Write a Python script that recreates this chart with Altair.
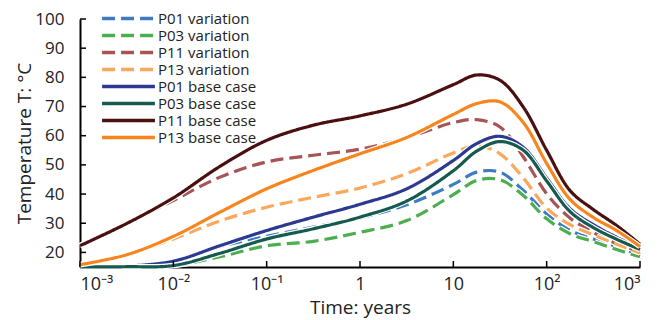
import altair as alt
import pandas as pd

# log10 of time in years at which values were read
log_t = [-3, -2.5, -2, -1.5, -1, -0.5, 0, 0.5, 1, 1.25, 1.5, 1.75, 2, 2.25, 2.5, 2.75, 3]

p01_var = [15.0, 15.3, 17.0, 22.0, 25.5, 28.7, 31.8, 36.3, 43.3, 47.5, 47.5, 41.2, 33.2, 27.5, 24.6, 22.0, 19.2]
p03_var = [15.0, 15.1, 15.5, 18.5, 22.3, 23.8, 26.9, 30.9, 39.8, 44.7, 44.9, 39.5, 31.5, 26.4, 23.7, 21.0, 18.5]
p11_var = [22.3, 29.9, 37.8, 45.8, 51.0, 53.3, 55.4, 59.3, 64.5, 65.5, 63.0, 52.7, 40.1, 31.8, 26.9, 23.0, 20.3]
p13_var = [15.8, 19.2, 24.6, 30.8, 35.5, 38.9, 42.1, 47.0, 54.1, 56.6, 53.8, 45.5, 35.2, 29.5, 26.0, 22.8, 19.8]
p01_base = [15.0, 15.3, 17.0, 22.3, 27.5, 32.1, 36.5, 41.8, 51.5, 57.3, 59.8, 56.0, 45.5, 35.0, 29.5, 25.2, 21.5]
p03_base = [15.0, 15.1, 15.5, 19.7, 24.6, 28.1, 32.1, 37.6, 48.0, 54.7, 58.0, 55.0, 44.5, 34.0, 28.5, 24.5, 21.0]
p11_base = [22.3, 29.9, 38.7, 49.5, 58.4, 63.6, 66.8, 70.8, 77.5, 80.8, 79.0, 69.8, 55.0, 41.2, 34.7, 29.2, 22.8]
p13_base = [15.8, 19.2, 25.5, 33.8, 41.8, 48.1, 53.8, 59.4, 67.3, 71.0, 71.6, 64.5, 50.5, 38.2, 32.0, 27.5, 22.0]

names = ["P01 variation", "P03 variation", "P11 variation", "P13 variation",
         "P01 base case", "P03 base case", "P11 base case", "P13 base case"]
series = [p01_var, p03_var, p11_var, p13_var, p01_base, p03_base, p11_base, p13_base]
colors = ["#3d7cc3", "#4cae4f", "#a65455", "#f9a85c",
          "#2b3990", "#16594e", "#4a0f0f", "#f7851e"]
dashed = [True, True, True, True, False, False, False, False]

x_ticks = [0.001, 0.01, 0.1, 1, 10, 100, 1000]
x_tick_labels = ["10\u207b\u00b3", "10\u207b\u00b2", "10\u207b\u00b9", "1", "10", "10\u00b2", "10\u00b3"]
y_ticks = [20, 30, 40, 50, 60, 70, 80, 90, 100]

rows = []
for name, vals in zip(names, series):
    for lt, v in zip(log_t, vals):
        rows.append({"series": name, "time": 10 ** lt, "temp": v})
df = pd.DataFrame(rows)

DASH = [13, 6]
FONT = "Open Sans"
INTERP = "catmull-rom"

label_expr = " : ".join(
    f"datum.value < {t * 1.5} ? '{lab}'" for t, lab in zip(x_ticks[:-1], x_tick_labels[:-1])
) + f" : '{x_tick_labels[-1]}'"

x_enc = alt.X("time:Q",
              scale=alt.Scale(type="log", domain=[0.001, 1000]),
              axis=alt.Axis(values=x_ticks, labelExpr=label_expr, title="Time: years",
                            labelPadding=8, labelFontSize=18, tickSize=0,
                            titleY=46, titleBaseline="alphabetic"))
y_enc = alt.Y("temp:Q",
              scale=alt.Scale(domain=[15, 100]),
              axis=alt.Axis(values=y_ticks, title="Temperature T: \u00b0C",
                            labelPadding=16, labelFontSize=17, tickSize=0,
                            titleX=-46, titleBaseline="bottom"))

legend = alt.Legend(title=None, orient="none", legendX=41, legendY=-8,
                    symbolType="M-4.6,0H4.6", symbolSize=132, symbolStrokeWidth=3.5,
                    labelFontSize=15, labelFont=FONT, labelColor="#222",
                    labelOffset=22, rowPadding=1, padding=0)
color_enc = alt.Color("series:N", scale=alt.Scale(domain=names, range=colors), legend=legend)
dash_enc = alt.StrokeDash("series:N",
                          scale=alt.Scale(domain=names,
                                          range=[DASH if d else [1, 0] for d in dashed]),
                          legend=legend)

layers = []
for name, d in zip(names, dashed):
    base = alt.Chart(df).transform_filter(alt.datum.series == name)
    halo_kw = dict(color="white", strokeWidth=5.6, interpolate=INTERP)
    if d:
        halo_kw["strokeDash"] = DASH
    layers.append(base.mark_line(**halo_kw).encode(x=x_enc, y=y_enc))
    layers.append(base.mark_line(strokeWidth=3.2, interpolate=INTERP)
                  .encode(x=x_enc, y=y_enc, color=color_enc, strokeDash=dash_enc))

xt = alt.Chart(pd.DataFrame({"time": x_ticks})).mark_rule(color="black", strokeWidth=1.5).encode(
    x=x_enc, y=alt.value(248), y2=alt.value(242))
yt = alt.Chart(pd.DataFrame({"temp": y_ticks})).mark_rule(color="black", strokeWidth=1.5).encode(
    y=y_enc, x=alt.value(0), x2=alt.value(6))

chart = alt.layer(*layers, xt, yt).properties(
    width=560, height=248,
    autosize=alt.AutoSizeParams(type="none"),
    padding={"left": 72, "top": 11, "right": 20, "bottom": 53},
).configure_axis(
    domainColor="black", domainWidth=2, grid=False, ticks=False,
    labelFont=FONT, labelColor="#222",
    titleFont=FONT, titleFontSize=19, titleFontWeight="normal", titleColor="#222",
).configure_view(stroke=None)

chart.save("out.html", embed_options={"renderer": "svg", "actions": False})
